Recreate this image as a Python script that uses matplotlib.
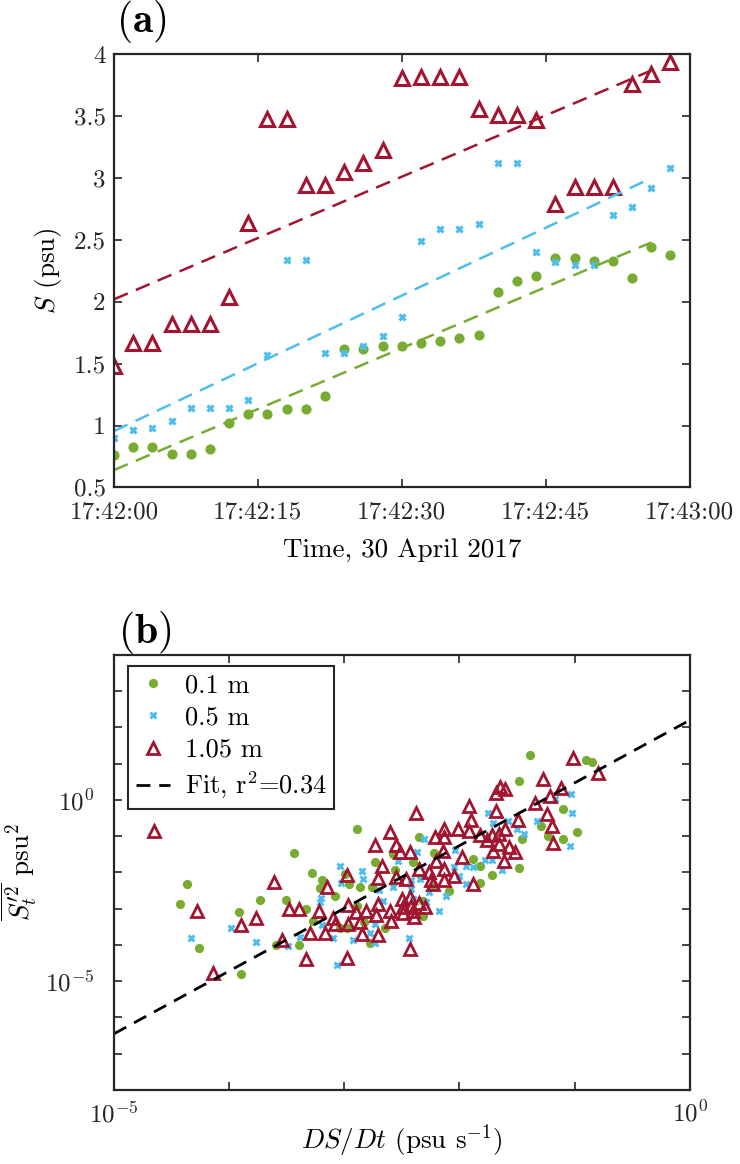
import numpy as np
import matplotlib
matplotlib.use("Agg")
import matplotlib.pyplot as plt
from matplotlib.ticker import FixedLocator, FixedFormatter, NullLocator
from matplotlib.lines import Line2D

plt.rcParams["font.family"] = "cmr10"
plt.rcParams["mathtext.fontset"] = "cm"
plt.rcParams["axes.formatter.use_mathtext"] = True

GREEN, BLUE, RED = "#77AC30", "#4DBEEE", "#A2142F"
AX_C = "#262626"
FS_TICK = 18
FS_LAB = 19.5

# ---- (a) salinity at three heights, seconds after 17:42:00 ----
t_sec = [0, 2, 4, 6, 8, 10, 12, 14, 16, 18, 20, 22, 24, 26, 28,
         30, 32, 34, 36, 38, 40, 42, 44, 46, 48, 50, 52, 54, 56, 58]
s_01 = [0.76, 0.83, 0.83, 0.77, 0.77, 0.81, 1.02, 1.09, 1.09, 1.13, 1.13, 1.24, 1.62, 1.62, 1.64,
        1.64, 1.67, 1.68, 1.71, 1.73, 2.08, 2.17, 2.21, 2.35, 2.35, 2.33, 2.33, 2.19, 2.44, 2.38]
s_05 = [0.90, 0.96, 0.98, 1.04, 1.14, 1.14, 1.14, 1.21, 1.57, 2.34, 2.34, 1.59, 1.59, 1.64, 1.72,
        1.88, 2.49, 2.59, 2.59, 2.63, 3.12, 3.12, 2.40, 2.32, 2.30, 2.30, 2.70, 2.77, 2.92, 3.08]
s_105 = [1.48, 1.67, 1.67, 1.82, 1.82, 1.82, 2.04, 2.64, 3.48, 3.48, 2.94, 2.94, 3.05, 3.12, 3.23,
         3.81, 3.82, 3.82, 3.82, 3.56, 3.51, 3.51, 3.47, 2.79, 2.93, 2.93, 2.93, 3.76, 3.84, 3.94]
fit_t = [0, 56]
fit_01 = [0.64, 2.48]
fit_05 = [0.955, 3.00]
fit_105 = [2.02, 3.87]
time_ticks = [0, 15, 30, 45, 60]
time_labels = ["17:42:00", "17:42:15", "17:42:30", "17:42:45", "17:43:00"]
s_ticks = [0.5, 1, 1.5, 2, 2.5, 3, 3.5, 4]
s_labels = ["0.5", "1", "1.5", "2", "2.5", "3", "3.5", "4"]

# ---- (b) variance vs DS/Dt, log10 values ----
g_lx = [-4.37, -4.43, -4.26, -3.90, -3.91, -3.73, -3.44, -3.51, -3.33, -3.59, -3.39, -3.28, -3.19,
        -3.21, -3.08, -3.27, -2.98, -3.04, -2.96, -2.99, -2.89, -2.83, -2.78, -2.89, -2.73, -2.86,
        -2.76, -2.65, -2.35, -2.40, -2.22, -2.32, -2.32, -2.58, -2.56, -2.23, -1.39, -0.90, -0.85,
        -1.48, -1.10, -1.29, -0.98, -1.46, -1.23, -1.10, -1.88, -1.82, -1.72, -1.48, -1.82, -2.09]
g_ly = [-2.31, -2.86, -4.08, -4.80, -3.08, -2.75, -1.45, -2.75, -3.01, -4.00, -4.01, -2.01, -2.22,
        -2.43, -2.66, -3.33, -3.52, -3.52, -2.32, -2.04, -2.92, -3.38, -3.94, -0.81, -1.71, -2.39,
        -2.39, -3.52, -1.02, -1.71, -1.46, -2.78, -3.19, -1.48, -1.94, -2.41, 1.23, 1.11, 1.04,
        0.51, -0.25, -0.72, -0.88, -1.09, -1.00, -1.07, -1.62, -1.83, -2.08, -1.87, -2.30, -2.50]
b_lx = [-4.33, -3.98, -3.77, -3.49, -3.38, -3.06, -3.20, -3.21, -3.19, -3.10, -3.04, -3.03, -2.92,
        -2.73, -2.85, -2.84, -2.66, -2.73, -2.31, -2.42, -2.34, -2.42, -2.26, -2.70, -2.53, -2.37,
        -2.58, -2.40, -1.03, -1.17, -1.02, -1.75, -1.58, -1.33, -1.71, -1.50, -1.44, -1.04, -2.04,
        -1.78, -1.72, -1.88, -1.94, -2.05, -1.63, -2.18, -2.78, -2.44, -2.29, -1.94, -2.00, -2.12]
b_ly = [-3.81, -3.52, -3.91, -4.03, -3.77, -4.54, -2.70, -2.82, -3.44, -3.80, -1.83, -2.30, -3.85,
        -3.94, -1.96, -2.18, -2.78, -3.41, -1.07, -2.22, -2.18, -2.45, -2.55, -2.48, -1.67, -1.44,
        -2.41, -2.73, 0.17, 0.02, -0.37, -0.37, -0.58, -0.58, -0.63, -0.81, -0.93, -1.28, -1.39,
        -1.65, -1.65, -1.85, -1.81, -1.85, -1.93, -3.06, -3.66, -3.82, -2.82, -2.33, -2.11, -2.64]
r_lx = [-4.65, -4.28, -4.14, -3.90, -3.77, -3.61, -3.48, -3.39, -3.54, -3.33, -2.98, -3.15, -3.22,
        -3.30, -3.17, -3.10, -3.08, -2.98, -2.97, -2.90, -2.97, -2.86, -2.85, -2.71, -2.73, -2.67,
        -2.71, -2.60, -2.55, -2.55, -2.71, -2.72, -2.60, -2.59, -2.38, -2.21, -2.43, -2.52, -2.20,
        -2.35, -2.26, -2.25, -2.46, -2.50, -2.43, -2.42, -2.49, -2.39, -2.81, -2.49, -2.43, -1.01,
        -0.80, -1.27, -1.12, -1.21, -1.65, -1.60, -1.68, -1.34, -1.92, -1.68, -1.24, -1.49, -1.90,
        -1.20, -2.13, -2.01, -1.92, -1.60, -2.13, -1.82, -1.72, -1.66, -1.19, -1.76, -1.66, -1.57,
        -1.52, -2.14, -1.71, -1.98, -1.61, -2.13, -2.05, -1.88, -2.23, -2.13, -2.35, -2.30, -2.40]
r_ly = [-0.86, -3.06, -4.77, -3.44, -3.26, -2.27, -3.01, -3.01, -3.85, -4.40, -4.37, -2.39, -3.06,
        -3.68, -3.68, -3.26, -3.43, -2.08, -2.89, -3.08, -3.43, -3.38, -3.69, -3.72, -1.25, -1.81,
        -2.16, -0.88, -1.25, -2.13, -2.87, -3.17, -3.06, -3.33, -0.35, -1.02, -1.44, -1.44, -1.67,
        -1.90, -1.99, -2.22, -2.18, -2.73, -2.69, -2.92, -2.96, -3.22, -3.06, -3.13, -4.10, 1.16,
        0.74, 0.57, 0.32, 0.11, 0.35, 0.30, 0.19, -0.07, -0.17, -0.30, -0.39, -0.56, -0.56,
        -0.72, -0.81, -0.79, -0.85, -0.81, -1.02, -0.97, -0.97, -0.94, -1.19, -1.11, -1.22, -1.31,
        -1.44, -1.41, -1.41, -1.56, -1.67, -1.90, -2.11, -2.33, -2.31, -2.22, -2.85, -2.95, -3.05]
fit_x = [1e-5, 1e0]
fit_y = [10 ** -6.45, 10 ** 2.2]
leg_labels = ["0.1 m", "0.5 m", "1.05 m", "Fit, r$^2$=0.34"]


def style_axes(ax):
    for sp in ax.spines.values():
        sp.set_color(AX_C); sp.set_linewidth(1.6)
    ax.tick_params(which="both", direction="in", top=True, right=True, color=AX_C,
                   width=1.2, length=6, labelsize=FS_TICK, labelcolor="#262626", pad=6)


fig = plt.figure(figsize=(7.4, 11.64), dpi=100)

# ---------------- (a) ----------------
ax = fig.add_axes([0.154, 0.5813, 0.778, 0.3720])
ax.plot(t_sec, s_01, "o", ms=6.3, color=GREEN, ls="none")
ax.plot(t_sec, s_05, "x", ms=5, mew=2.3, color=BLUE, ls="none")
ax.plot(t_sec, s_105, "^", ms=10, mew=2.2, mfc="none", mec=RED, ls="none")
ax.plot(fit_t, fit_01, color=GREEN, lw=1.8, dashes=(6, 3.5))
ax.plot(fit_t, fit_05, color=BLUE, lw=1.8, dashes=(6, 3.5))
ax.plot(fit_t, fit_105, color=RED, lw=1.8, dashes=(6, 3.5))
ax.set_xlim(0, 60); ax.set_ylim(0.5, 4)
ax.xaxis.set_major_locator(FixedLocator(time_ticks))
ax.xaxis.set_major_formatter(FixedFormatter(time_labels))
ax.yaxis.set_major_locator(FixedLocator(s_ticks))
ax.yaxis.set_major_formatter(FixedFormatter(s_labels))
style_axes(ax)
ax.tick_params(axis="x", pad=10)
ax.set_xlabel("Time, 30 April 2017", fontsize=FS_LAB)
ax.set_ylabel("$S$ (psu)", fontsize=FS_LAB)
ax.xaxis.set_label_coords(0.5, -0.118)
ax.yaxis.set_label_coords(-0.086, 0.5)
fig.text(0.157, 0.9725, r"$\mathbf{(a)}$", fontsize=30, va="baseline")

# ---------------- (b) ----------------
bx = fig.add_axes([0.154, 0.0636, 0.778, 0.3737])
bx.plot(10 ** np.array(g_lx), 10 ** np.array(g_ly), "o", ms=5.6, color=GREEN, ls="none")
bx.plot(10 ** np.array(b_lx), 10 ** np.array(b_ly), "x", ms=4.5, mew=2.1, color=BLUE, ls="none")
bx.plot(10 ** np.array(r_lx), 10 ** np.array(r_ly), "^", ms=8.5, mew=2.0, mfc="none", mec=RED, ls="none")
bx.plot(fit_x, fit_y, color="black", lw=2.0, dashes=(5, 3.2))
bx.set_xscale("log"); bx.set_yscale("log")
bx.set_xlim(1e-5, 1e0); bx.set_ylim(1e-8, 1e4)
xdec = [10.0 ** k for k in range(-5, 1)]
ydec = [10.0 ** k for k in range(-8, 5)]
bx.xaxis.set_major_locator(FixedLocator(xdec))
bx.xaxis.set_major_formatter(FixedFormatter(["$10^{-5}$", "", "", "", "", "$10^{0}$"]))
bx.yaxis.set_major_locator(FixedLocator(ydec))
bx.yaxis.set_major_formatter(FixedFormatter(["" if k not in (-5, 0) else "$10^{%d}$" % k
                                             for k in range(-8, 5)]))
bx.xaxis.set_minor_locator(NullLocator()); bx.yaxis.set_minor_locator(NullLocator())
style_axes(bx)
bx.tick_params(axis="y", pad=14)
bx.tick_params(axis="x", pad=8)
bx.set_xlabel("$DS/Dt$ (psu s$^{-1}$)", fontsize=FS_LAB)
bx.set_ylabel(r"$\overline{S_t^{\prime 2}}$ psu$^2$", fontsize=FS_LAB)
bx.xaxis.set_label_coords(0.5, -0.075)
bx.yaxis.set_label_coords(-0.13, 0.5)
fig.text(0.159, 0.4476, r"$\mathbf{(b)}$", fontsize=30, va="baseline")

handles = [Line2D([], [], marker="o", ms=5.6, color=GREEN, ls="none"),
           Line2D([], [], marker="x", ms=4.5, mew=2.1, color=BLUE, ls="none"),
           Line2D([], [], marker="^", ms=8.5, mew=2.0, mfc="none", mec=RED, ls="none"),
           Line2D([], [], color="black", lw=2.0, dashes=(5, 3.2))]
leg = bx.legend(handles, leg_labels, loc="upper left", bbox_to_anchor=(0.024, 0.975),
                borderaxespad=0, fontsize=19, frameon=True, fancybox=False, framealpha=1,
                edgecolor=AX_C, handlelength=1.3, handletextpad=0.55, labelspacing=0.32,
                borderpad=0.3)
leg.get_frame().set_linewidth(1.5)

fig.savefig("out.png", dpi=100)
